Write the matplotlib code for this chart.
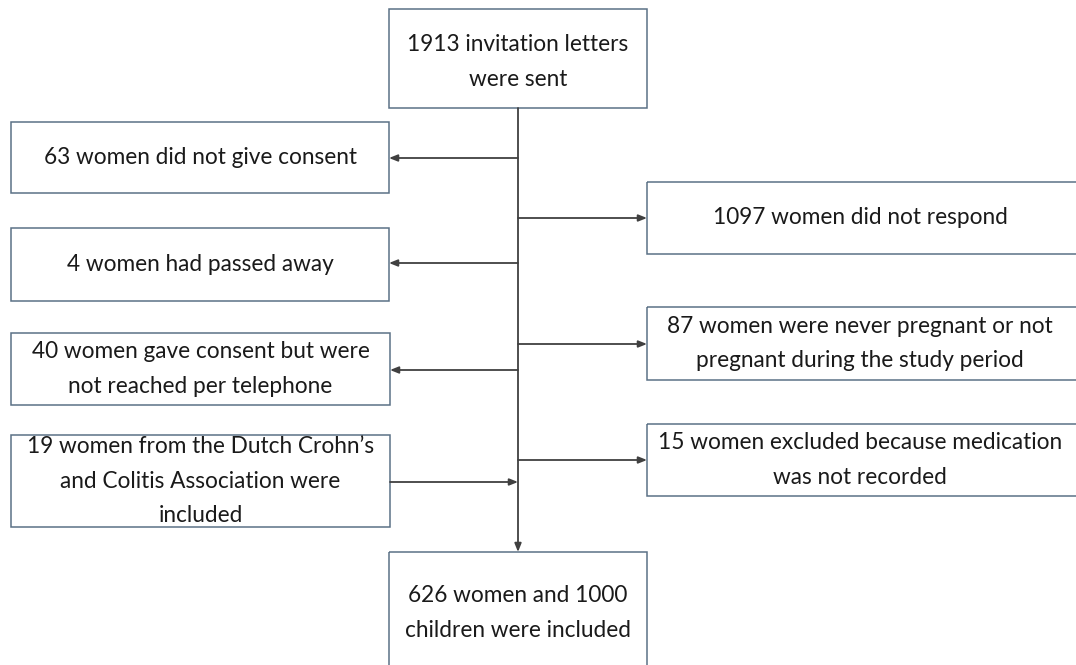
import matplotlib.pyplot as plt
from matplotlib.patches import Rectangle

# Flowchart texts
start_text = "1913 invitation letters\nwere sent"
left_texts = [
    "63 women did not give consent",
    "4 women had passed away",
    "40 women gave consent but were\nnot reached per telephone",
    "19 women from the Dutch Crohn\u2019s\nand Colitis Association were\nincluded",
]
right_texts = [
    "1097 women did not respond",
    "87 women were never pregnant or not\npregnant during the study period",
    "15 women excluded because medication\nwas not recorded",
]
end_text = "626 women and 1000\nchildren were included"

# Layout in pixel coordinates (x0, y0, x1, y1)
start_box = (389, 9, 647, 108)
end_box = (389, 552, 647, 680)
left_boxes = [(11, 122, 389, 193), (11, 228, 389, 301), (11, 333, 390, 405), (11, 435, 390, 527)]
right_boxes = [(647, 182, 1090, 254), (647, 307, 1090, 380), (647, 424, 1090, 496)]
left_arrow_y = [158, 263, 370, 482]
right_arrow_y = [218, 344, 460]
spine_x = 518

edge_col = "#5b7186"
line_col = "#404040"
font = ["Lato", "DejaVu Sans"]

fig = plt.figure(figsize=(10.76, 6.65), dpi=100)
ax = fig.add_axes([0, 0, 1, 1])
ax.set_xlim(0, 1076)
ax.set_ylim(665, 0)
ax.axis("off")


def box(b, text, text_y=None):
    x0, y0, x1, y1 = b
    ax.add_patch(Rectangle((x0, y0), x1 - x0, y1 - y0, fill=False, edgecolor=edge_col, lw=1.1))
    ty = (y0 + y1) / 2 if text_y is None else text_y
    tx = (x0 + min(x1, 1073)) / 2
    ax.text(tx, ty, text, ha="center", va="center", fontsize=16.3, family=font,
            color="#1a1a1a", linespacing=1.8)


box(start_box, start_text, 62)
box(end_box, end_text, 613)
for b, t in zip(left_boxes, left_texts):
    box(b, t)
for b, t in zip(right_boxes, right_texts):
    box(b, t)

arrow = dict(arrowstyle="-|>,head_length=0.5,head_width=0.2", color=line_col, lw=1.3,
             shrinkA=0, shrinkB=0)

# main spine down to the final box
ax.annotate("", xy=(spine_x, end_box[1]), xytext=(spine_x, start_box[3]), arrowprops=arrow)

# exclusions on the left (first three) and the added group (last)
for b, y in zip(left_boxes[:3], left_arrow_y[:3]):
    ax.annotate("", xy=(b[2], y), xytext=(spine_x, y), arrowprops=arrow)
ax.annotate("", xy=(spine_x, left_arrow_y[3]), xytext=(left_boxes[3][2], left_arrow_y[3]),
            arrowprops=arrow)

for b, y in zip(right_boxes, right_arrow_y):
    ax.annotate("", xy=(b[0], y), xytext=(spine_x, y), arrowprops=arrow)

fig.savefig("out.png", dpi=100, facecolor="white")
